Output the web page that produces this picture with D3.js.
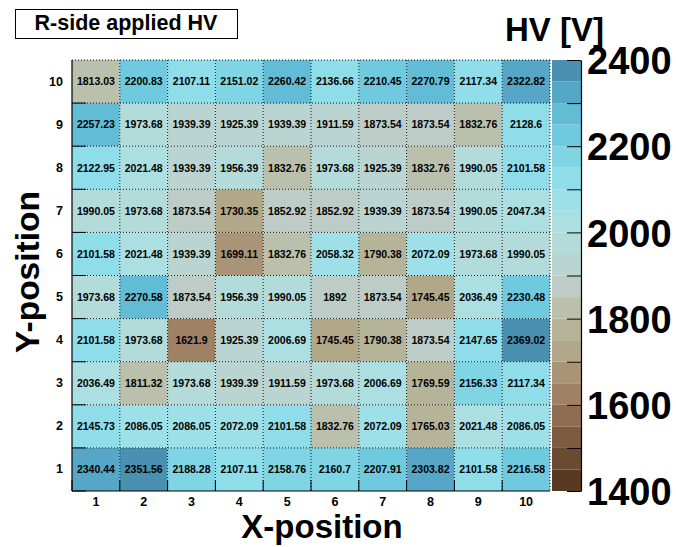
<!DOCTYPE html>
<html>
<head>
<meta charset="utf-8">
<script src="https://cdn.jsdelivr.net/npm/d3@7"></script>
<style>
  body { margin: 0; background: #fff; }
  text { font-family: "Liberation Sans", Arial, Helvetica, sans-serif; font-weight: bold; fill: #000; }
</style>
</head>
<body>
<svg id="vis"></svg>
<script>
// channel positions
var xLabels = ["1", "2", "3", "4", "5", "6", "7", "8", "9", "10"];
var yLabels = ["1", "2", "3", "4", "5", "6", "7", "8", "9", "10"];

// applied HV per row, Y-position 1 (bottom) .. 10 (top), X-position 1..10
var hvY1  = [2340.44, 2351.56, 2188.28, 2107.11, 2158.76, 2160.7, 2207.91, 2303.82, 2101.58, 2216.58];
var hvY2  = [2145.73, 2086.05, 2086.05, 2072.09, 2101.58, 1832.76, 2072.09, 1765.03, 2021.48, 2086.05];
var hvY3  = [2036.49, 1811.32, 1973.68, 1939.39, 1911.59, 1973.68, 2006.69, 1769.59, 2156.33, 2117.34];
var hvY4  = [2101.58, 1973.68, 1621.9, 1925.39, 2006.69, 1745.45, 1790.38, 1873.54, 2147.65, 2369.02];
var hvY5  = [1973.68, 2270.58, 1873.54, 1956.39, 1990.05, 1892, 1873.54, 1745.45, 2036.49, 2230.48];
var hvY6  = [2101.58, 2021.48, 1939.39, 1699.11, 1832.76, 2058.32, 1790.38, 2072.09, 1973.68, 1990.05];
var hvY7  = [1990.05, 1973.68, 1873.54, 1730.35, 1852.92, 1852.92, 1939.39, 1873.54, 1990.05, 2047.34];
var hvY8  = [2122.95, 2021.48, 1939.39, 1956.39, 1832.76, 1973.68, 1925.39, 1832.76, 1990.05, 2101.58];
var hvY9  = [2257.23, 1973.68, 1939.39, 1925.39, 1939.39, 1911.59, 1873.54, 1873.54, 1832.76, 2128.6];
var hvY10 = [1813.03, 2200.83, 2107.11, 2151.02, 2260.42, 2136.66, 2210.45, 2270.79, 2117.34, 2322.82];
var hvRows = [hvY1, hvY2, hvY3, hvY4, hvY5, hvY6, hvY7, hvY8, hvY9, hvY10];

// z range and colour axis ticks
var zRange = [1400, 2400];
var zTicks = [1400, 1500, 1600, 1700, 1800, 1900, 2000, 2100, 2200, 2300, 2400];

// 20 colour levels, brown -> cyan -> blue
var palette = [
  "#583a23", "#6a4a31", "#7c5b41", "#8e6d52", "#9f8166",
  "#aa9478", "#b1a789", "#b6b498", "#bac0ab", "#bdccc6",
  "#bad5d1", "#b3dbda", "#abdfe2", "#9ee0e8", "#8edde9",
  "#80d5e5", "#70cadf", "#63bcd6", "#56a7c7", "#4a90b1"
];

var vWidth = 676, vHeight = 547;
// note: "top" is taken by window.top, so use plot* names
var plotLeft = 72, plotRight = 550, plotTop = 60, plotBottom = 491;

var svg = d3.select("#vis")
  .attr("width", vWidth)
  .attr("height", vHeight);

var x = d3.scaleBand().domain(xLabels).range([plotLeft, plotRight]);
var y = d3.scaleBand().domain(yLabels).range([plotBottom, plotTop]);
var z = d3.scaleLinear().domain(zRange).range([plotBottom, plotTop]);
var color = d3.scaleQuantize().domain(zRange).range(palette);

var cells = [];
hvRows.forEach(function(row, i) {
  row.forEach(function(v, j) {
    cells.push({ x: xLabels[j], y: yLabels[i], v: v });
  });
});

// cells
svg.append("g")
  .selectAll("rect")
  .data(cells)
  .enter().append("rect")
  .attr("x", function(d) { return x(d.x); })
  .attr("y", function(d) { return y(d.y); })
  .attr("width", x.bandwidth())
  .attr("height", y.bandwidth())
  .attr("fill", function(d) { return color(d.v); });

// dotted grid on the bin edges
var grid = svg.append("g")
  .attr("stroke", "#111")
  .attr("stroke-width", 1)
  .attr("stroke-dasharray", "1,2");

xLabels.forEach(function(l) {
  var px = x(l) + x.bandwidth();
  grid.append("line").attr("x1", px).attr("x2", px).attr("y1", plotTop).attr("y2", plotBottom);
});
yLabels.forEach(function(l) {
  var py = y(l);
  grid.append("line").attr("x1", plotLeft).attr("x2", plotRight).attr("y1", py).attr("y2", py);
});

// tick marks at bin edges
var ticks = svg.append("g").attr("stroke", "#000").attr("stroke-width", 1);
xLabels.forEach(function(l) {
  var px = x(l);
  ticks.append("line").attr("x1", px).attr("x2", px).attr("y1", plotBottom).attr("y2", plotBottom - 11);
});
yLabels.forEach(function(l) {
  var py = y(l) + y.bandwidth();
  ticks.append("line").attr("x1", plotLeft).attr("x2", plotLeft + 14).attr("y1", py).attr("y2", py);
});

// solid frame lines (left, bottom)
svg.append("line").attr("x1", plotLeft).attr("x2", plotLeft).attr("y1", plotTop).attr("y2", plotBottom)
  .attr("stroke", "#000").attr("stroke-width", 1.2);
svg.append("line").attr("x1", plotLeft).attr("x2", plotRight).attr("y1", plotBottom).attr("y2", plotBottom)
  .attr("stroke", "#000").attr("stroke-width", 1.2);

// cell values
svg.append("g")
  .selectAll("text")
  .data(cells)
  .enter().append("text")
  .attr("x", function(d) { return x(d.x) + x.bandwidth() / 2; })
  .attr("y", function(d) { return y(d.y) + y.bandwidth() / 2; })
  .attr("dy", "0.36em")
  .attr("text-anchor", "middle")
  .style("font-size", "10.5px")
  .text(function(d) { return String(d.v); });

// axis labels
var xAxis = svg.append("g")
  .attr("transform", "translate(0," + plotBottom + ")")
  .call(d3.axisBottom(x).tickSize(0).tickPadding(6));
xAxis.select(".domain").remove();
xAxis.selectAll("text").attr("font-size", null).attr("font-family", null).style("font-size", "12.5px");

var yAxis = svg.append("g")
  .attr("transform", "translate(" + plotLeft + ",0)")
  .call(d3.axisLeft(y).tickSize(0).tickPadding(9));
yAxis.select(".domain").remove();
yAxis.selectAll("text").attr("font-size", null).attr("font-family", null).style("font-size", "12.5px");

// colour bar
var barLeft = 552, barRight = 581;
var levels = d3.range(palette.length).map(function(i) {
  return color.invertExtent(palette[i]);
});
svg.append("g")
  .selectAll("rect")
  .data(levels)
  .enter().append("rect")
  .attr("x", barLeft)
  .attr("width", barRight - barLeft)
  .attr("y", function(d) { return z(d[1]); })
  .attr("height", function(d) { return z(d[0]) - z(d[1]); })
  .attr("fill", function(d, i) { return palette[i]; });

var zAxis = svg.append("g")
  .attr("transform", "translate(" + barRight + ",0)")
  .call(d3.axisRight(z)
    .tickValues(zTicks)
    .tickSizeInner(-14)
    .tickSizeOuter(0)
    .tickPadding(6)
    .tickFormat(function(d) { return d % 200 === 0 ? d : ""; }));
zAxis.select(".domain").attr("stroke", "#000").attr("stroke-width", 1.2);
zAxis.selectAll(".tick line").attr("stroke", "#000");
zAxis.selectAll("text")
  .attr("font-size", null).attr("font-family", null)
  .style("font-size", "38px")
  .attr("dy", "0.36em");

// titles
svg.append("rect")
  .attr("x", 15.5).attr("y", 9.5)
  .attr("width", 222).attr("height", 29)
  .attr("fill", "#fff")
  .attr("stroke", "#000");
svg.append("text")
  .attr("x", 126).attr("y", 30)
  .attr("text-anchor", "middle")
  .style("font-size", "21.5px")
  .text("R-side applied HV");

svg.append("text")
  .attr("x", 505).attr("y", 41)
  .style("font-size", "33px")
  .text("HV [V]");

svg.append("text")
  .attr("x", 322).attr("y", 538)
  .attr("text-anchor", "middle")
  .style("font-size", "33px")
  .text("X-position");

svg.append("text")
  .attr("transform", "translate(39,272) rotate(-90)")
  .attr("text-anchor", "middle")
  .style("font-size", "33.5px")
  .text("Y-position");
</script>
</body>
</html>
